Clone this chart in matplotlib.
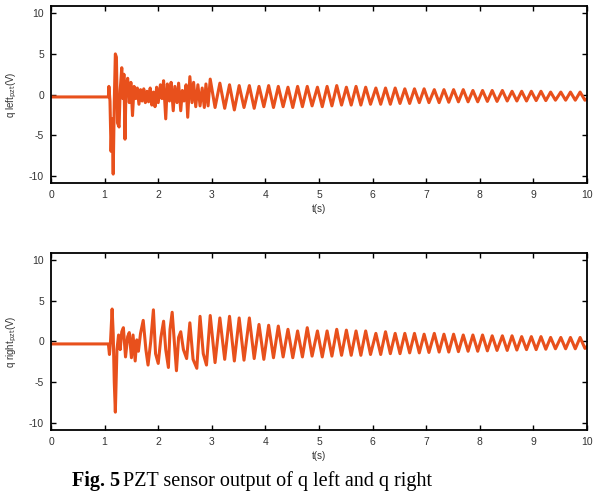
import numpy as np
import matplotlib
matplotlib.use('Agg')
import matplotlib.pyplot as plt

# ---- data (volts vs seconds) ----

# q left: start of record + burst, vertex times / values
left_burst_t = [0.0, 1.07, 1.08, 1.10, 1.12, 1.14, 1.16, 1.18, 1.20, 1.22, 1.24, 1.27,
                1.29, 1.32, 1.34, 1.36, 1.38, 1.40, 1.43, 1.46, 1.49, 1.52, 1.55, 1.58,
                1.61, 1.64, 1.67, 1.70, 1.73, 1.76, 1.79, 1.82, 1.85, 1.88, 1.91, 1.94,
                1.97, 2.00, 2.04, 2.07, 2.10, 2.14, 2.17, 2.21, 2.24, 2.28, 2.31, 2.35,
                2.38, 2.42, 2.45, 2.48, 2.52, 2.55, 2.59, 2.63, 2.66, 2.70, 2.74, 2.78,
                2.82, 2.86, 2.89, 2.93, 2.97, 3.06]
left_burst_v = [-0.3, -0.3, 1.0, -0.8, -7.0, -3.0, -9.8, -1.0, 5.0, 4.6, -3.5, -4.0,
                0.5, 3.3, -0.5, 2.5, -5.5, 1.0, 2.0, -1.0, 1.5, -2.6, 1.0, -0.5,
                0.8, -1.2, 0.6, -0.8, 0.7, -1.0, 0.4, -0.9, 0.8, -1.3, 0.3, -1.5,
                0.9, -1.0, 1.2, -0.5, 1.7, -3.0, 1.3, -0.8, 1.5, -2.0, 1.0, -1.0,
                1.4, -2.0, 0.5, -0.8, 1.2, -2.8, 2.2, -1.0, 1.5, -1.5, 1.2, -1.4,
                0.8, -1.6, 1.3, -1.4, 1.9, -1.6]

# steady ringing after 3 s: crest times, trough times and levels
crest_t = [3.15, 3.33, 3.51, 3.70, 3.88, 4.06, 4.24, 4.42, 4.60, 4.78, 4.97, 5.15,
           5.33, 5.51, 5.69, 5.87, 6.06, 6.24, 6.42, 6.60, 6.78, 6.96, 7.15, 7.33,
           7.51, 7.69, 7.87, 8.05, 8.23, 8.42, 8.60, 8.78, 8.96, 9.14, 9.32, 9.51,
           9.69, 9.87]
trough_t = [3.24, 3.42, 3.60, 3.79, 3.97, 4.15, 4.33, 4.51, 4.69, 4.87, 5.06, 5.24,
            5.42, 5.60, 5.78, 5.96, 6.15, 6.33, 6.51, 6.69, 6.87, 7.05, 7.24, 7.42,
            7.60, 7.78, 7.96, 8.14, 8.32, 8.51, 8.69, 8.87, 9.05, 9.23, 9.41, 9.60,
            9.78, 9.96]
left_crest = [1.4, 1.2, 1.1, 1.1, 1.0, 1.1, 1.0, 0.9, 1.0, 1.0, 0.9, 1.0,
              1.1, 0.9, 1.0, 0.9, 0.8, 0.8, 0.8, 0.7, 0.7, 0.7, 0.6, 0.6,
              0.6, 0.6, 0.5, 0.5, 0.5, 0.5, 0.4, 0.4, 0.4, 0.4, 0.3, 0.3,
              0.3, 0.3]
left_trough = [-1.7, -1.9, -1.6, -1.7, -1.5, -1.6, -1.5, -1.6, -1.5, -1.4, -1.5, -1.4,
               -1.3, -1.3, -1.3, -1.2, -1.2, -1.2, -1.1, -1.1, -1.0, -1.0, -1.0, -0.95,
               -0.9, -0.9, -0.9, -0.85, -0.85, -0.8, -0.8, -0.8, -0.75, -0.75, -0.7, -0.7,
               -0.7, -0.7]
left_end = -0.5

# q right
right_burst_t = [0.0, 1.07, 1.09, 1.11, 1.14, 1.16, 1.18, 1.20, 1.23, 1.26, 1.29, 1.32,
                 1.35, 1.39, 1.43, 1.46, 1.50, 1.53, 1.57, 1.60, 1.63, 1.67, 1.72, 1.77,
                 1.81, 1.86, 1.91, 1.95, 2.00, 2.05, 2.10, 2.14, 2.19, 2.22, 2.26, 2.30,
                 2.34, 2.38, 2.42, 2.47, 2.53, 2.59, 2.65, 2.72, 2.78, 2.84, 2.90, 2.97,
                 3.06]
right_burst_v = [-0.3, -0.3, -1.6, 0.0, 4.0, 1.0, -5.0, -8.7, -1.0, 0.8, -1.0, 1.2,
                 1.7, -1.9, 0.6, 1.1, -2.0, 0.8, -2.4, 0.2, -1.2, 1.0, 2.6, -1.0,
                 -2.9, 0.0, 3.9, -1.5, -2.7, 0.5, 2.5, -1.0, -3.2, 1.5, 3.6, 0.0,
                 -3.6, 0.5, 1.2, -1.0, -2.1, 2.3, -2.2, -3.3, 3.1, -1.5, -2.9, 3.2,
                 -2.6]
right_crest = [2.9, 3.1, 2.9, 2.9, 2.1, 2.0, 1.9, 1.5, 1.3, 1.7, 1.3, 1.3,
               1.5, 1.4, 1.3, 1.3, 1.0, 1.2, 1.0, 1.0, 1.0, 0.9, 1.0, 0.9,
               0.9, 0.8, 0.8, 0.8, 0.7, 0.7, 0.7, 0.6, 0.6, 0.6, 0.5, 0.5,
               0.5, 0.5]
right_trough = [-2.2, -2.4, -2.3, -2.1, -2.2, -2.0, -1.9, -2.0, -1.9, -1.8, -1.9, -1.8,
                -1.7, -1.7, -1.7, -1.6, -1.6, -1.5, -1.5, -1.4, -1.4, -1.35, -1.3, -1.3,
                -1.25, -1.2, -1.2, -1.15, -1.1, -1.1, -1.05, -1.0, -1.0, -0.95, -0.9, -0.9,
                -0.9, -0.85]
right_end = -0.6

xticks = [0, 1, 2, 3, 4, 5, 6, 7, 8, 9, 10]
yticks = [-10, -5, 0, 5, 10]


def build_series(burst_t, burst_v, crest, trough, end_v):
    t = list(burst_t)
    v = list(burst_v)
    for tc, vc, tt, vt in zip(crest_t, crest, trough_t, trough):
        t += [tc, tt]
        v += [vc, vt]
    t.append(10.0)
    v.append(end_v)
    return np.array(t), np.array(v)


LINE = '#e8501c'
TXT = '#333333'
plt.rcParams['font.family'] = ['Liberation Sans', 'DejaVu Sans']
plt.rcParams['axes.unicode_minus'] = False

fig = plt.figure(figsize=(6.03, 4.92), dpi=100)
ax1 = fig.add_axes([0.0846, 0.628, 0.889, 0.3598])
ax2 = fig.add_axes([0.0846, 0.126, 0.889, 0.3598])

panels = [
    (ax1, build_series(left_burst_t, left_burst_v, left_crest, left_trough, left_end),
     'q left$_{\\mathrm{pzt}}$(V)'),
    (ax2, build_series(right_burst_t, right_burst_v, right_crest, right_trough, right_end),
     'q right$_{\\mathrm{pzt}}$(V)'),
]

for ax, (t, v), ylab in panels:
    ax.plot(t, v, color=LINE, lw=2.2, solid_joinstyle='round')
    ax.set_xlim(0, 10)
    ax.set_ylim(-10.9, 10.9)
    ax.set_xticks(xticks)
    ax.set_yticks(yticks)
    ax.tick_params(direction='in', length=3.5, width=1.0, top=True, right=True,
                   labelsize=7.5, labelcolor=TXT, pad=5)
    for s in ax.spines.values():
        s.set_linewidth(1.3)
    ax.set_xlabel('t(s)', fontsize=7, color=TXT, labelpad=3)
    ax.set_ylabel(ylab, fontsize=7, color=TXT, labelpad=7)

# caption: bold "Fig. 5" then plain text
cap_y = 0.013
b = fig.text(0.119, cap_y, 'Fig. 5', fontsize=14.5, fontweight='bold',
             family='Liberation Serif', va='baseline', ha='left')
fig.canvas.draw()
bb = b.get_window_extent(renderer=fig.canvas.get_renderer())
x1 = bb.x1 / fig.bbox.width
fig.text(x1 + 0.006, cap_y, 'PZT sensor output of q left and q right', fontsize=14.5,
         family='Liberation Serif', va='baseline', ha='left')

fig.savefig('out.png', dpi=100)
